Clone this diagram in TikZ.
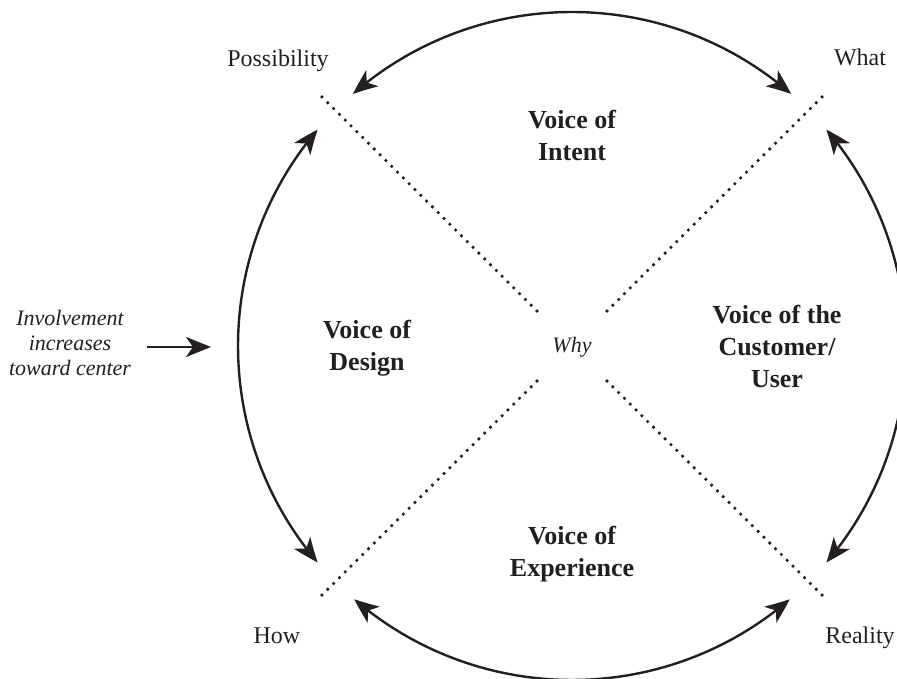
\documentclass[tikz,border=0pt]{standalone}
\usepackage{fontspec}
\setmainfont{Liberation Serif}
\usetikzlibrary{arrows.meta,bending}
\definecolor{ink}{HTML}{231F20}
\begin{document}
\begin{tikzpicture}[x=1pt,y=1pt,
  tip/.tip={Stealth[length=25pt,width=20pt,inset=7pt]},
  cyc/.style={ink, line width=2.4pt, {tip[bend]}-{tip[bend]}},
  dotline/.style={ink, line width=3.6pt, line cap=round, dash pattern=on 0pt off 8.2pt},
  corner/.style={font=\fontsize{24}{28}\selectfont, text=ink, inner sep=0pt, anchor=base},
  voice/.style={font=\fontsize{26}{32}\selectfont\bfseries, text=ink, align=center, inner sep=0pt},
  note/.style={font=\fontsize{22}{25}\selectfont\itshape, text=ink, align=center, inner sep=0pt}]
\useasboundingbox (0,0) rectangle (897,678);
\coordinate (c) at (572,332);
% dotted diagonals
\coordinate (ulin) at (537,367); \coordinate (ulout) at (319,584);
\coordinate (urin) at (607,367); \coordinate (urout) at (825,584);
\coordinate (llin) at (537,297); \coordinate (llout) at (319,80);
\coordinate (lrin) at (607,297); \coordinate (lrout) at (825,80);
\draw[dotline] (ulin) -- (ulout);
\draw[dotline] (urin) -- (urout);
\draw[dotline] (llin) -- (llout);
\draw[dotline] (lrin) -- (lrout);
% arcs
\coordinate (t1) at ([shift={(131:334)}]c);
\coordinate (l1) at ([shift={(139.6:334)}]c);
\coordinate (b1) at ([shift={(229.3:334)}]c);
\coordinate (r1) at ([shift={(319.6:334)}]c);
\draw[cyc] (t1) arc[start angle=131, end angle=49, radius=334];
\draw[cyc] (l1) arc[start angle=139.6, end angle=220.4, radius=334];
\draw[cyc] (b1) arc[start angle=229.3, end angle=310.7, radius=334];
\draw[cyc] (r1) arc[start angle=319.6, end angle=400.4, radius=334];
% corner labels
\node[corner] (poss) at (278,611) {Possibility};
\node[corner] (what) at (860,612) {What};
\node[corner] (how) at (277,35) {How};
\node[corner] (real) at (860,35) {Reality};
% quadrant labels
\node[voice] (intent) at (572,543) {Voice of\\Intent};
\node[voice] (design) at (367,330) {Voice of\\Design};
\node[voice] (cust) at (777,332) {Voice of the\\Customer/\\User};
\node[voice] (exper) at (572,123.5) {Voice of\\Experience};
\node[note, anchor=base] (why) at (572,325) {Why};
% involvement note
\node[note] (inv) at (70,335.3) {Involvement\\increases\\toward center};
\coordinate (ar1) at (147,331);
\coordinate (ar2) at (211,331);
\draw[ink, line width=2.4pt, -{tip}] (ar1) -- (ar2);
\end{tikzpicture}
\end{document}
